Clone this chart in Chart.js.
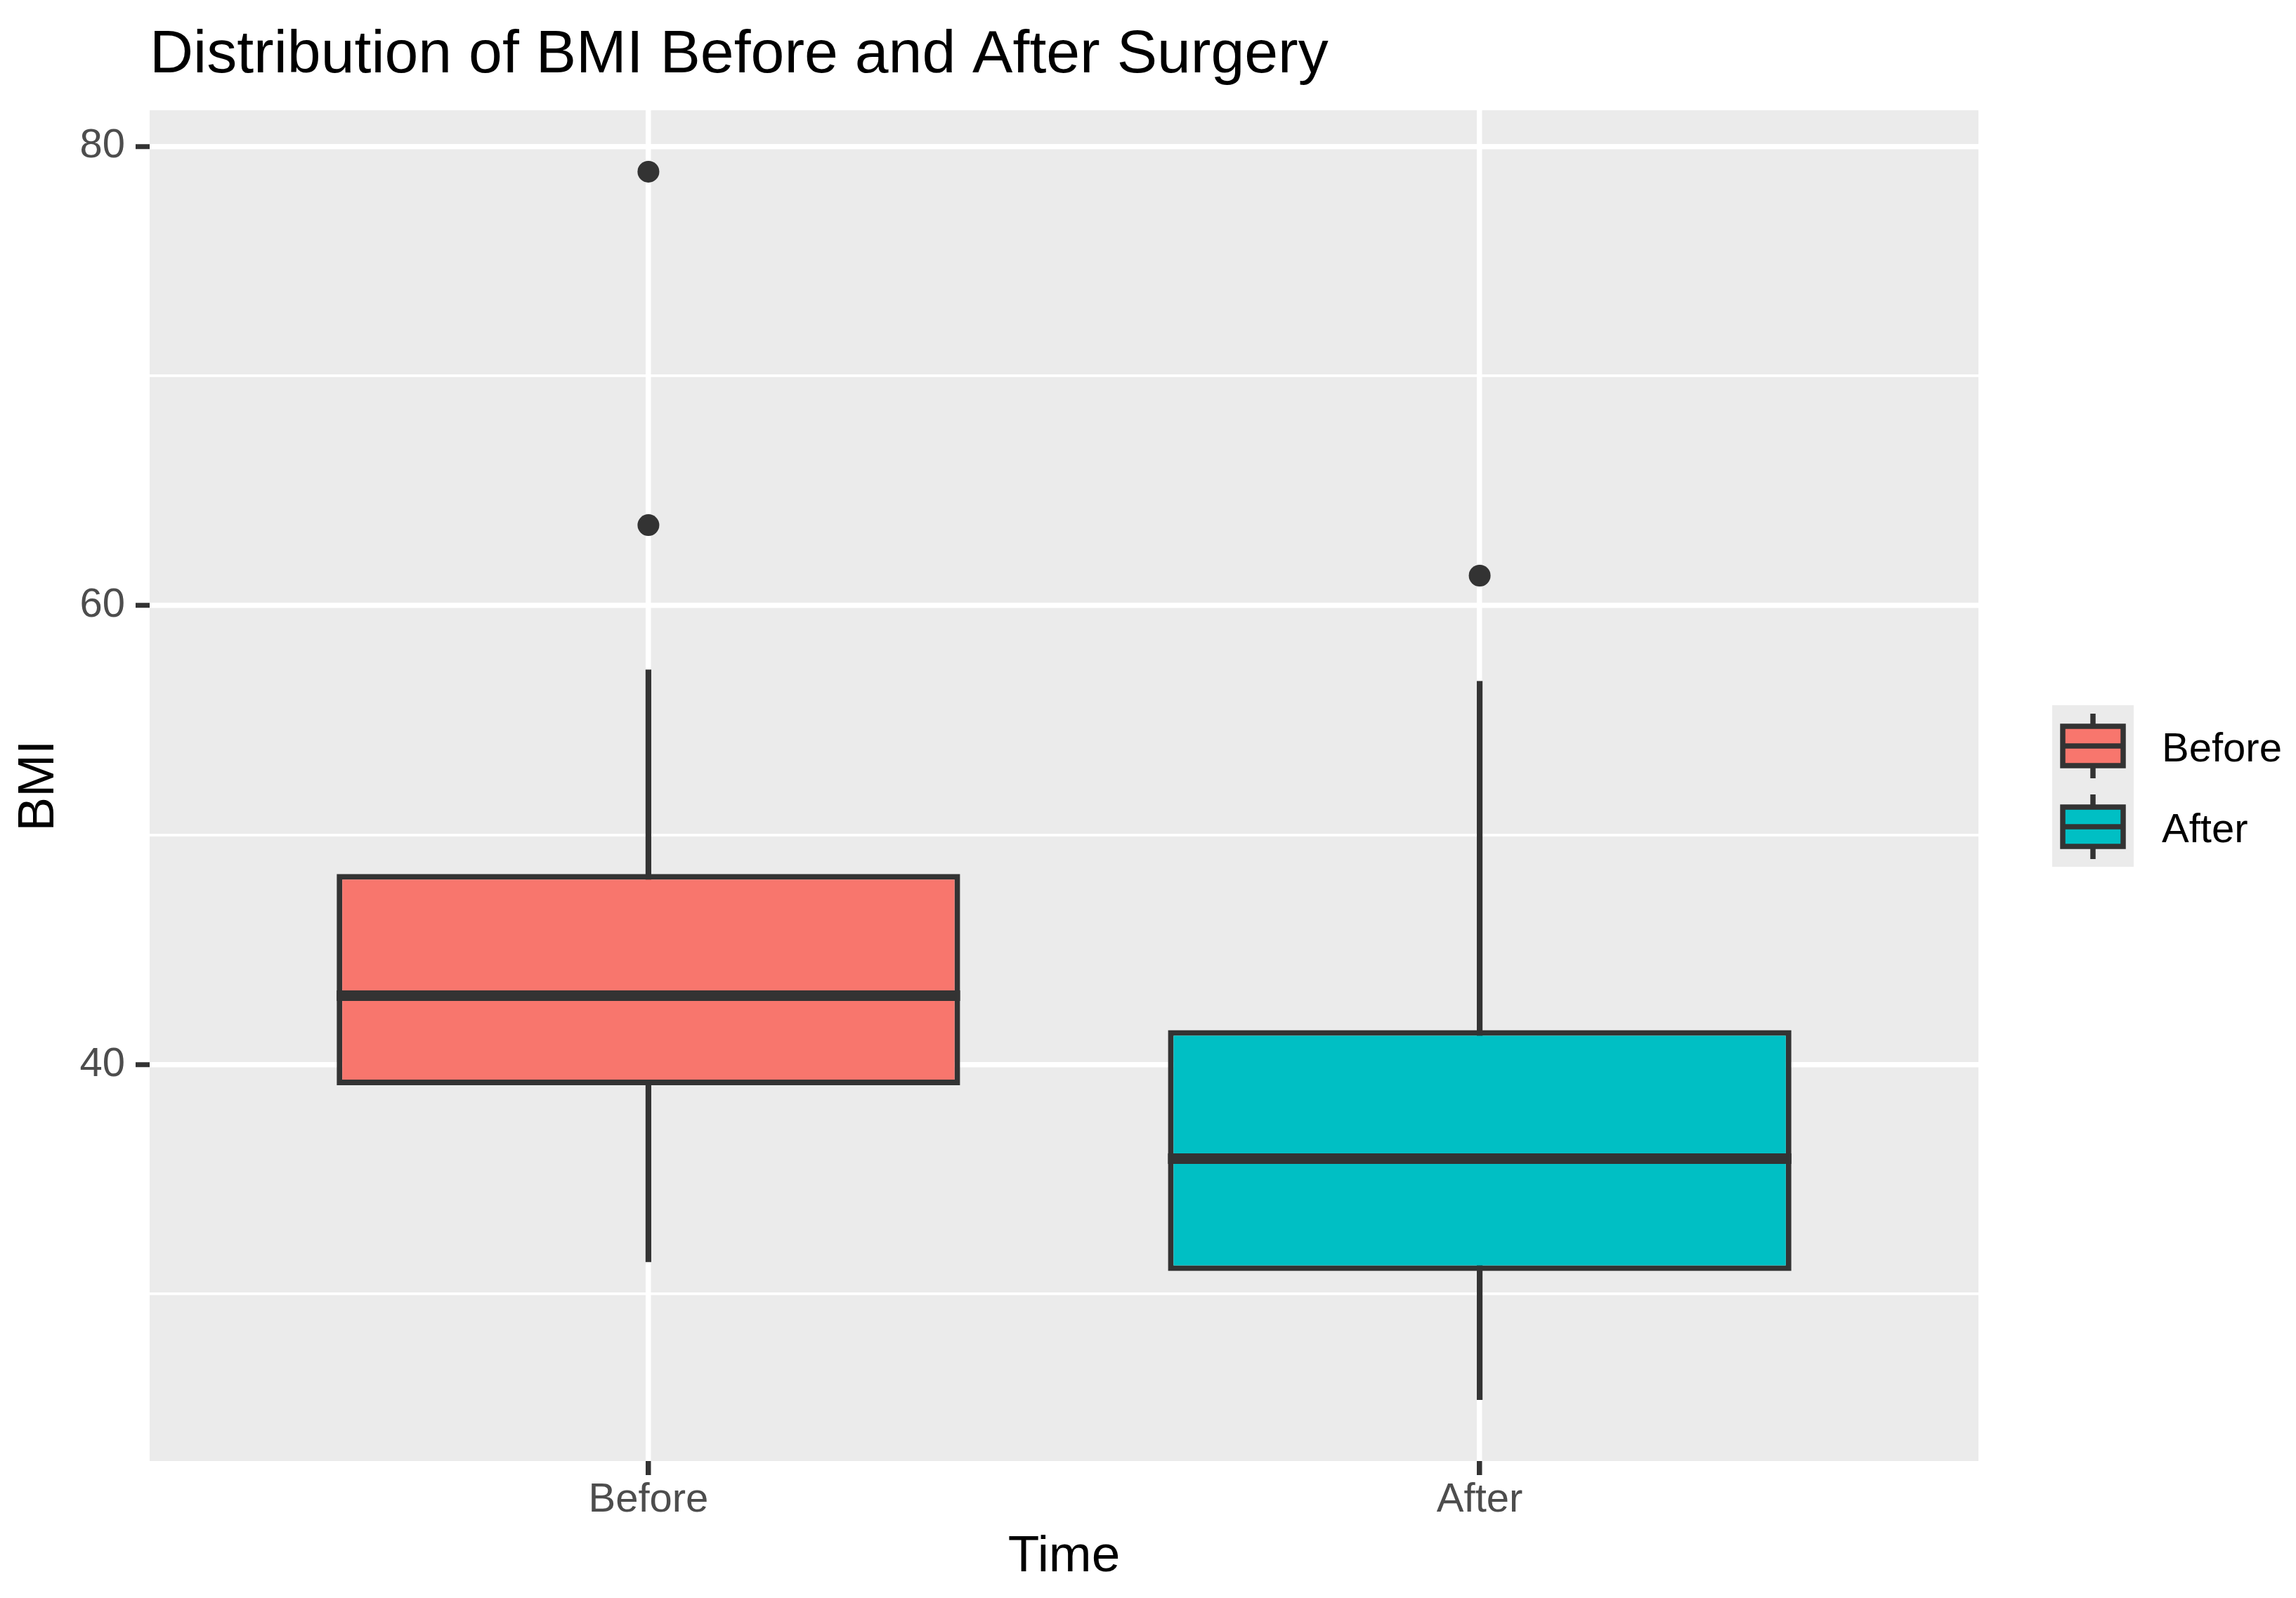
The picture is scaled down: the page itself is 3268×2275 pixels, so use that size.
<!DOCTYPE html>
<html>
<head>
<meta charset="utf-8">
<script src="https://cdn.jsdelivr.net/npm/chart.js@4"></script>
<style>
  html, body { margin: 0; padding: 0; background: #fff; }
  #wrap { width: 3268px; height: 2275px; position: relative; }
</style>
</head>
<body>
<div id="wrap"><canvas id="bmiChart"></canvas></div>
<script>
// data
const categories = ['Before', 'After'];
const whiskerLow = [31.4, 25.4];
const q1 = [39.1, 31.0];
const median = [43.0, 35.9];
const q3 = [48.3, 41.5];
const whiskerHigh = [57.2, 56.7];
const outliers = [[78.9, 63.5], [61.3]];
const yTicks = [30, 40, 50, 60, 70, 80];
const yLabelled = [40, 60, 80];

const fills = ['#F8766D', '#00BFC4'];
const dark = '#333333';
const FONT = "'Liberation Sans', Arial, sans-serif";

// ggplot style 5% expansion on the y range
const allVals = whiskerLow.concat(whiskerHigh, outliers.flat());
const lo = Math.min(...allVals), hi = Math.max(...allVals);
const yMin = lo - (hi - lo) * 0.05;
const yMax = hi + (hi - lo) * 0.05;

const ctx = document.getElementById('bmiChart');

// panel background + title + legend
const ggPlugin = {
  id: 'ggPlugin',
  beforeDraw(chart) {
    const a = chart.chartArea, c = chart.ctx;
    c.save();
    c.fillStyle = '#EBEBEB';
    c.fillRect(a.left, a.top, a.right - a.left, a.bottom - a.top);
    c.restore();
  },
  afterDatasetsDraw(chart) {
    // median lines, on top of the boxes
    const c = chart.ctx;
    const xs = chart.scales.x, ys = chart.scales.y;
    const boxes = chart.getDatasetMeta(0).data;
    c.save();
    c.strokeStyle = dark;
    c.lineWidth = 15;
    median.forEach((m, i) => {
      const x = xs.getPixelForValue(i + 1);
      const half = boxes[i].width / 2;
      const y = ys.getPixelForValue(m);
      c.beginPath();
      c.moveTo(x - half, y);
      c.lineTo(x + half, y);
      c.stroke();
    });
    c.restore();
  },
  afterDraw(chart) {
    const a = chart.chartArea, c = chart.ctx;
    c.save();
    c.fillStyle = '#000';
    c.font = '86px ' + FONT;
    c.textBaseline = 'alphabetic';
    c.textAlign = 'left';
    c.fillText('Distribution of BMI Before and After Surgery', a.left, 103);

    // legend
    const kx = 2921, ky = 1004, kw = 116, kh = 115;
    c.fillStyle = '#EBEBEB';
    c.fillRect(kx, ky, kw, kh * categories.length);
    categories.forEach((cat, i) => {
      const top = ky + i * kh;
      const cx = kx + kw / 2;
      c.strokeStyle = dark;
      c.lineWidth = 7.5;
      c.beginPath();
      c.moveTo(cx, top + 12); c.lineTo(cx, top + 30);
      c.moveTo(cx, top + 86); c.lineTo(cx, top + 104);
      c.stroke();
      c.fillStyle = fills[i];
      c.fillRect(kx + 15, top + 30, kw - 30, 56);
      c.strokeRect(kx + 15, top + 30, kw - 30, 56);
      c.beginPath();
      c.moveTo(kx + 15, top + 58); c.lineTo(kx + kw - 15, top + 58);
      c.stroke();
      c.fillStyle = '#000';
      c.font = '58px ' + FONT;
      c.fillText(cat, 3077, top + 80);
    });
    c.restore();
  }
};

const boxes = categories.map((c, i) => ({ x: i + 1, y: [q1[i], q3[i]] }));
const whiskers = categories.map((c, i) => ({ x: i + 1, y: [whiskerLow[i], whiskerHigh[i]] }));
const outlierPts = [];
outliers.forEach((list, i) => list.forEach(v => outlierPts.push({ x: i + 1, y: v })));

new Chart(ctx, {
  data: {
    datasets: [
      {
        type: 'bar',
        label: 'box',
        data: boxes,
        grouped: false,
        backgroundColor: fills,
        borderColor: dark,
        borderWidth: 8,
        borderSkipped: false,
        categoryPercentage: 1,
        barPercentage: 0.75,
        order: 1
      },
      {
        type: 'bar',
        label: 'whisker',
        data: whiskers,
        grouped: false,
        backgroundColor: dark,
        borderWidth: 0,
        barThickness: 7.5,
        order: 2
      },
      {
        type: 'scatter',
        label: 'outliers',
        data: outlierPts,
        pointRadius: 15.5,
        pointBackgroundColor: dark,
        pointBorderWidth: 0,
        order: 0
      }
    ]
  },
  options: {
    responsive: true,
    maintainAspectRatio: false,
    devicePixelRatio: 1,
    animation: false,
    layout: { padding: { top: 157, right: 452, left: 0, bottom: 0 } },
    plugins: {
      legend: { display: false },
      tooltip: { enabled: false },
      title: { display: false }
    },
    scales: {
      x: {
        type: 'linear',
        min: 0.4,
        max: 2.6,
        offset: false,
        afterBuildTicks(scale) { scale.ticks = categories.map((c, i) => ({ value: i + 1 })); },
        afterFit(scale) { scale.height = 195; },
        border: { display: false },
        grid: {
          offset: false,
          color: '#FFFFFF',
          lineWidth: 7.5,
          tickColor: dark,
          tickLength: 20,
          tickWidth: 7.5
        },
        ticks: {
          padding: 1,
          color: '#4D4D4D',
          font: { family: FONT, size: 58 },
          callback: v => categories[v - 1]
        },
        title: {
          display: true,
          text: 'Time',
          color: '#000',
          font: { family: FONT, size: 73 },
          padding: { top: 0, bottom: 14 }
        }
      },
      y: {
        type: 'linear',
        min: yMin,
        max: yMax,
        afterBuildTicks(scale) { scale.ticks = yTicks.map(v => ({ value: v })); },
        afterFit(scale) { scale.width = 213; },
        border: { display: false },
        grid: {
          color: '#FFFFFF',
          lineWidth: c => yLabelled.includes(c.tick.value) ? 7.5 : 3.8,
          tickColor: c => yLabelled.includes(c.tick.value) ? dark : 'rgba(0,0,0,0)',
          tickLength: 20,
          tickWidth: 7
        },
        ticks: {
          padding: 15,
          color: '#4D4D4D',
          font: { family: FONT, size: 58 },
          callback: v => yLabelled.includes(v) ? String(v) : ''
        },
        title: {
          display: true,
          text: 'BMI',
          color: '#000',
          font: { family: FONT, size: 73 },
          padding: { top: 12, bottom: 0 }
        }
      }
    }
  },
  plugins: [ggPlugin]
});
</script>
</body>
</html>
